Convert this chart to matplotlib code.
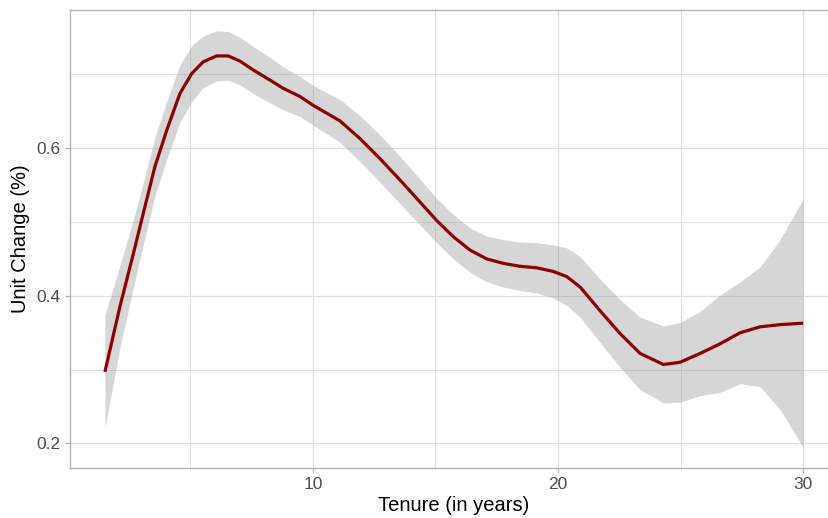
import matplotlib
matplotlib.use("Agg")
import matplotlib.pyplot as plt
import numpy as np

# Smoothed unit change by tenure, with its confidence band half-width
tenure = [1.51, 2.12, 2.67, 3.07, 3.55, 4.03, 4.57, 5.05, 5.52, 6.07, 6.54,
          7.02, 7.56, 8.11, 8.79, 9.47, 10.01, 10.69, 11.10, 11.92, 12.73,
          13.55, 14.37, 15.05, 15.73, 16.41, 17.09, 17.77, 18.45, 19.13,
          19.81, 20.36, 20.90, 21.71, 22.53, 23.35, 24.30, 24.98, 25.80,
          26.61, 27.43, 28.24, 29.06, 30.00]
unit_change = [0.297, 0.385, 0.457, 0.511, 0.575, 0.624, 0.674, 0.701, 0.717,
               0.725, 0.725, 0.718, 0.706, 0.695, 0.681, 0.670, 0.658, 0.645,
               0.637, 0.613, 0.586, 0.557, 0.527, 0.502, 0.480, 0.462, 0.450,
               0.444, 0.440, 0.438, 0.433, 0.426, 0.412, 0.380, 0.349, 0.322,
               0.307, 0.310, 0.322, 0.335, 0.350, 0.358, 0.361, 0.363]
ci_half = [0.077, 0.056, 0.046, 0.042, 0.040, 0.039, 0.039, 0.038, 0.035,
           0.034, 0.033, 0.032, 0.032, 0.031, 0.029, 0.027, 0.027, 0.028,
           0.029, 0.031, 0.032, 0.032, 0.031, 0.030, 0.030, 0.030, 0.031,
           0.032, 0.033, 0.034, 0.036, 0.039, 0.041, 0.043, 0.046, 0.049,
           0.052, 0.054, 0.057, 0.066, 0.069, 0.081, 0.115, 0.168]

x_ticks = [10, 20, 30]
x_minor = [5, 15, 25]
y_ticks = [0.2, 0.4, 0.6]
y_minor = [0.3, 0.5, 0.7]

x = np.array(tenure)
y = np.array(unit_change)
h = np.array(ci_half)

plt.rcParams["font.family"] = ["Liberation Sans", "DejaVu Sans"]

fig = plt.figure(figsize=(8.29, 5.18), dpi=100)
W, H = 829, 518
left, right, top, bottom = 70, 838, 10, 468
ax = fig.add_axes([left / W, 1 - bottom / H, (right - left) / W, (bottom - top) / H])

grid_col = "#DEDEDE"
for v in x_minor:
    ax.axvline(v, color=grid_col, lw=0.7, zorder=0)
for v in y_minor:
    ax.axhline(v, color=grid_col, lw=0.7, zorder=0)
for v in x_ticks:
    ax.axvline(v, color=grid_col, lw=0.9, zorder=0)
for v in y_ticks:
    ax.axhline(v, color=grid_col, lw=0.9, zorder=0)

ax.fill_between(x, y - h, y + h, color="#999999", alpha=0.4, lw=0, zorder=1)
ax.plot(x, y, color="#8B0000", lw=2.3, zorder=2,
        solid_capstyle="butt", solid_joinstyle="round")

span = x.max() - x.min()
ax.set_xlim(x.min() - 0.05 * span, x.max() + 0.05 * span)
lo, hi = (y - h).min(), (y + h).max()
ax.set_ylim(lo - 0.05 * (hi - lo), hi + 0.05 * (hi - lo))

ax.set_xticks(x_ticks)
ax.set_yticks(y_ticks)
ax.set_xticklabels([str(t) for t in x_ticks])
ax.set_yticklabels([f"{t:.1f}" for t in y_ticks])
ax.tick_params(axis="both", colors="#B3B3B3", labelcolor="#4D4D4D",
               labelsize=12.5, length=3.5, width=0.9, pad=3)

for s in ax.spines.values():
    s.set_color("#B3B3B3")
    s.set_linewidth(1.0)

ax.set_xlabel("Tenure (in years)", fontsize=14.5, color="black", labelpad=3)
ax.set_ylabel("Unit Change (%)", fontsize=14.5, color="black", labelpad=5)

fig.savefig("out.png", dpi=100)
